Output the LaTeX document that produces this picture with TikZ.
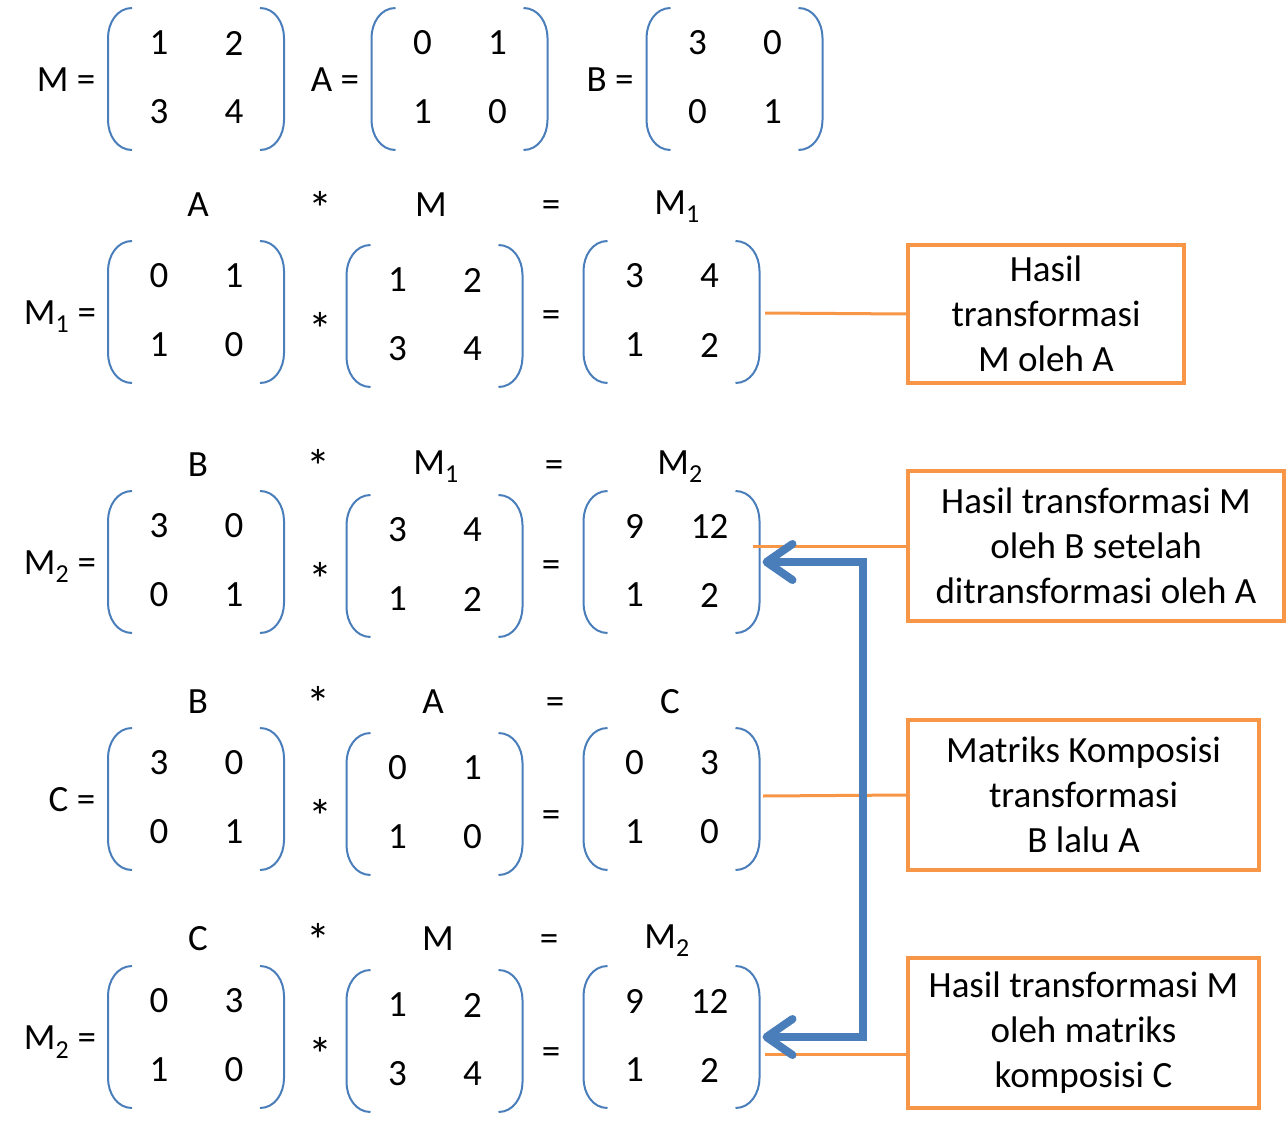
\documentclass[tikz,border=0pt]{standalone}
\usepackage{fontspec}
\setmainfont{Carlito}
\usetikzlibrary{positioning, calc, arrows.meta}
\definecolor{garisbiru}{HTML}{4A7EBB}
\definecolor{oranye}{HTML}{F79646}
\tikzset{
  kurung/.style={draw=garisbiru, line width=2pt},
  isi/.style={inner sep=0pt},
  kali/.style={inner sep=0pt, font=\fontsize{48}{48}\selectfont},
  kotak/.style={rectangle, draw=oranye, line width=3.5pt, align=center, inner sep=0pt},
  garis/.style={draw=oranye, line width=3pt},
  panah/.style={draw=garisbiru, line width=8pt, {Straight Barb[length=26pt,width=36pt,round]}-{Straight Barb[length=26pt,width=36pt,round]}}
}
% matrix: name, centre x, top y, four entries
\newcommand{\matriks}[7]{%
  \draw[kurung] ({#2-64},{#3}) to[out=180,in=90] ({#2-88},{#3+30}) -- ({#2-88},{#3+112}) to[out=-90,in=180] ({#2-64},{#3+142});
  \draw[kurung] ({#2+64},{#3}) to[out=0,in=90] ({#2+88},{#3+30}) -- ({#2+88},{#3+112}) to[out=-90,in=0] ({#2+64},{#3+142});
  \node (#1-11) [isi] at ({#2-37},{#3+35}) {#4};
  \node (#1-12) [isi] at ({#2+38},{#3+35}) {#5};
  \node (#1-21) [isi] at ({#2-37},{#3+104}) {#6};
  \node (#1-22) [isi] at ({#2+38},{#3+104}) {#7};
  \coordinate (#1) at ({#2+91},{#3+71});
}
\begin{document}
\begin{tikzpicture}[x=1pt, y=-1pt, every node/.style={font=\fontsize{37}{45}\selectfont}]
  \useasboundingbox (0,0) rectangle (1287,1126);
  % Define the matrices
  \node (eqM) [isi] at (66,80) {M =};
  \matriks{mM}{196}{8}{1}{2}{3}{4}
  \node (eqA) [isi] at (335,80) {A =};
  \matriks{mA}{459.5}{8}{0}{1}{1}{0}
  \node (eqB) [isi] at (610,80) {B =};
  \matriks{mB}{734.5}{8}{3}{0}{0}{1}
  % M1 = A * M
  \node (l1a) [isi] at (198,205) {A};
  \node (l1b) [kali] at (320,208) {*};
  \node (l1c) [isi] at (431,205) {M};
  \node (l1d) [isi] at (551,209) {=};
  \node (l1e) [isi] at (677,207) {M\textsubscript{1}};
  \node (eq1) [isi] at (60,317) {M\textsubscript{1} =};
  \matriks{a1}{196}{241}{0}{1}{1}{0}
  \node (kali1) [kali] at (320,329) {*};
  \matriks{b1}{434.5}{245}{1}{2}{3}{4}
  \node (sama1) [isi] at (551,319) {=};
  \matriks{c1}{671.5}{241}{3}{4}{1}{2}
  % M2 = B * M1
  \node (l2a) [isi] at (198,465) {B};
  \node (l2b) [kali] at (318,466) {*};
  \node (l2c) [isi] at (436,467) {M\textsubscript{1}};
  \node (l2d) [isi] at (554,469) {=};
  \node (l2e) [isi] at (680,467) {M\textsubscript{2}};
  \node (eq2) [isi] at (60,567) {M\textsubscript{2} =};
  \matriks{a2}{196}{491}{3}{0}{0}{1}
  \node (kali2) [kali] at (320,579) {*};
  \matriks{b2}{434.5}{495}{3}{4}{1}{2}
  \node (sama2) [isi] at (551,569) {=};
  \matriks{c2}{671.5}{491}{9}{12}{1}{2}
  % C = B * A
  \node (l3a) [isi] at (198,702) {B};
  \node (l3b) [kali] at (318,703) {*};
  \node (l3c) [isi] at (433,702) {A};
  \node (l3d) [isi] at (555,706) {=};
  \node (l3e) [isi] at (670,702) {C};
  \node (eq3) [isi] at (72,800) {C =};
  \matriks{a3}{196}{728}{3}{0}{0}{1}
  \node (kali3) [kali] at (320,816) {*};
  \matriks{b3}{434.5}{733}{0}{1}{1}{0}
  \node (sama3) [isi] at (551,819) {=};
  \matriks{c3}{671.5}{728}{0}{3}{1}{0}
  % M2 = C * M
  \node (l4a) [isi] at (198,939) {C};
  \node (l4b) [kali] at (318,940) {*};
  \node (l4c) [isi] at (438,939) {M};
  \node (l4d) [isi] at (549,943) {=};
  \node (l4e) [isi] at (667,941) {M\textsubscript{2}};
  \node (eq4) [isi] at (60,1042) {M\textsubscript{2} =};
  \matriks{a4}{196}{966}{0}{3}{1}{0}
  \node (kali4) [kali] at (320,1054) {*};
  \matriks{b4}{434.5}{970}{1}{2}{3}{4}
  \node (sama4) [isi] at (551,1056) {=};
  \matriks{c4}{671.5}{966}{9}{12}{1}{2}
  % Define the boxes
  \node (box1) [kotak, minimum width=276, minimum height=138] at (1046,314) {Hasil\\transformasi\\M oleh A};
  \node (box2) [kotak, minimum width=376, minimum height=150] at (1096,546) {Hasil transformasi M\\oleh B setelah\\ditransformasi oleh A};
  \node (box3) [kotak, minimum width=351, minimum height=150] at (1083.5,795) {Matriks Komposisi\\transformasi\\B lalu A};
  \node (box4) [kotak, minimum width=351, minimum height=150] at (1083.5,1033) {Hasil transformasi M\\oleh matriks\\komposisi C};
  % Connect the nodes
  \coordinate (p1) at (765,313);
  \coordinate (p2) at (753,546);
  \coordinate (p3) at (763,796);
  \coordinate (p4) at (765,1054);
  \draw [garis] (p1) -- (box1.west);
  \draw [garis] (p2) -- (box2.west);
  \draw [garis] (p3) -- (box3.west);
  \draw [garis] (p4) -- (p4 -| box4.west);
  \coordinate (k) at (863,0);
  \draw [panah] (c2) -- (c2 -| k) -- (c4 -| k) -- (c4);
\end{tikzpicture}
\end{document}
